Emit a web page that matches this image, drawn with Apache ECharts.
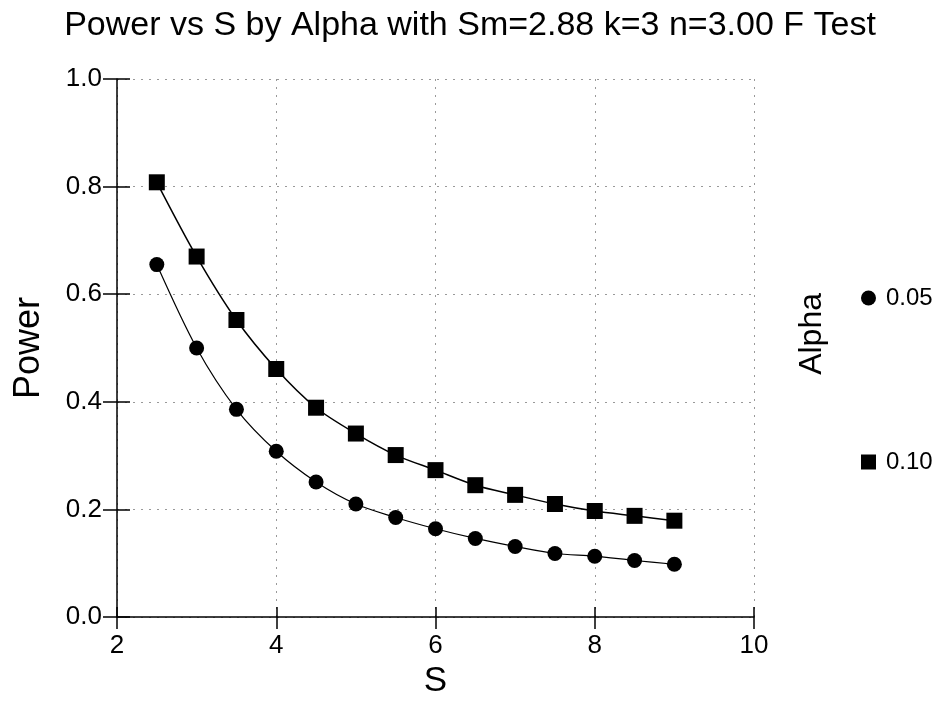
<!DOCTYPE html>
<html><head><meta charset="utf-8">
<script src="https://cdn.jsdelivr.net/npm/echarts@6/dist/echarts.min.js"></script>
<style>html,body{margin:0;padding:0;background:#fff}#c{width:940px;height:714px}</style>
</head><body><div id="c"></div>
<script>
const sValues = [2.5,3.0,3.5,4.0,4.5,5.0,5.5,6.0,6.5,7.0,7.5,8.0,8.5,9.0];
const power005 = [0.655,0.500,0.386,0.308,0.251,0.210,0.185,0.164,0.146,0.131,0.118,0.113,0.105,0.098];
const power010 = [0.808,0.670,0.552,0.461,0.389,0.341,0.301,0.273,0.245,0.227,0.210,0.197,0.188,0.179];
const xTicks = [2,4,6,8,10];
const yTicks = [0.0,0.2,0.4,0.6,0.8,1.0];
const alphaNames = ['0.05','0.10'];

const FONT = 'Liberation Sans';
const chart = echarts.init(document.getElementById('c'));
const pair = (arr) => sValues.map((s,i)=>[s,arr[i]]);
chart.setOption({
  backgroundColor:'#fff',
  animation:false,
  title:{text:'Power vs S by Alpha with Sm=2.88 k=3 n=3.00 F Test',left:'center',top:4,
    textStyle:{fontFamily:FONT,fontSize:34,fontWeight:'normal',color:'#000'}},
  grid:{left:117,right:186,top:79,bottom:97},
  legend:[
    {data:[{name:alphaNames[0],icon:'circle'}],left:856,top:281,itemWidth:15,itemHeight:15,
      textStyle:{fontFamily:FONT,fontSize:24,color:'#000',padding:[0,0,0,5]}},
    {data:[{name:alphaNames[1],icon:'rect'}],left:856,top:445,itemWidth:15,itemHeight:15,
      textStyle:{fontFamily:FONT,fontSize:24,color:'#000',padding:[0,0,0,5]}}
  ],
  graphic:[{type:'text',left:796,top:293,rotation:Math.PI/2,
    style:{text:'Alpha',font:'32px "Liberation Sans"',fill:'#000'}}],
  xAxis:[{type:'value',min:xTicks[0],max:xTicks[xTicks.length-1],interval:2,
    name:'S',nameLocation:'middle',nameGap:37,
    nameTextStyle:{fontFamily:FONT,fontSize:35,color:'#000'},
    axisLine:{show:true,lineStyle:{color:'#000',width:1.5}},
    axisTick:{show:true,length:12,lineStyle:{color:'#000',width:1.5}},
    axisLabel:{fontFamily:FONT,fontSize:26,color:'#000',margin:16},
    splitLine:{show:true,lineStyle:{color:'#999',type:[2,6],width:1}}},
   {type:'value',min:2,max:10,interval:2,position:'bottom',
    axisLine:{show:false},axisLabel:{show:false},splitLine:{show:false},
    axisTick:{show:true,inside:true,length:10,lineStyle:{color:'#000',width:1.5}}}],
  yAxis:[{type:'value',min:yTicks[0],max:yTicks[yTicks.length-1],interval:0.2,
    name:'Power',nameLocation:'middle',nameGap:70,
    nameTextStyle:{fontFamily:FONT,fontSize:36,color:'#000'},
    axisLine:{show:true,lineStyle:{color:'#000',width:1.5}},
    axisTick:{show:true,length:14,lineStyle:{color:'#000',width:1.5}},
    axisLabel:{fontFamily:FONT,fontSize:26,color:'#000',margin:15,formatter:v=>v.toFixed(1)},
    splitLine:{show:true,lineStyle:{color:'#999',type:[2,6],width:1}}},
   {type:'value',min:0,max:1,interval:0.2,position:'left',
    axisLine:{show:false},axisLabel:{show:false},splitLine:{show:false},
    axisTick:{show:true,inside:true,length:13,lineStyle:{color:'#000',width:1.5}}}],
  series:[
    {name:alphaNames[0],type:'line',data:pair(power005),smooth:0.3,symbol:'circle',symbolSize:15,
      itemStyle:{color:'#000'},lineStyle:{color:'#000',width:1.2}},
    {name:alphaNames[1],type:'line',data:pair(power010),smooth:0.3,symbol:'rect',symbolSize:16,
      itemStyle:{color:'#000'},lineStyle:{color:'#000',width:1.5}}
  ]
});
</script></body></html>
